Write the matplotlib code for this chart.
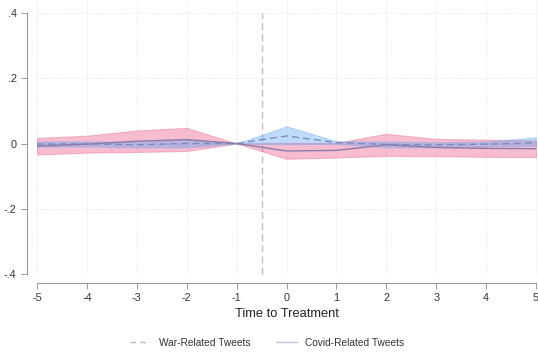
import matplotlib
matplotlib.use("Agg")
import matplotlib.pyplot as plt
from matplotlib.lines import Line2D

plt.rcParams['font.family'] = ['Liberation Sans', 'DejaVu Sans']

t = [-5, -4, -3, -2, -1, 0, 1, 2, 3, 4, 5]

war_coef = [-0.002, -0.001, -0.004, 0.000, 0.0, 0.023, 0.003, -0.003, -0.004, -0.002, 0.002]
war_lo   = [-0.010, -0.009, -0.012, -0.012, 0.0, -0.002, -0.001, -0.012, -0.012, -0.009, -0.007]
war_hi   = [0.006, 0.007, 0.005, 0.012, 0.0, 0.053, 0.007, 0.006, 0.004, 0.006, 0.019]

cov_coef = [-0.008, -0.002, 0.007, 0.012, 0.0, -0.023, -0.021, -0.004, -0.012, -0.015, -0.016]
cov_lo   = [-0.034, -0.028, -0.026, -0.023, 0.0, -0.047, -0.043, -0.038, -0.039, -0.041, -0.042]
cov_hi   = [0.017, 0.024, 0.040, 0.048, 0.0, 0.002, 0.002, 0.030, 0.014, 0.012, 0.009]

xticks = [-5, -4, -3, -2, -1, 0, 1, 2, 3, 4, 5]
yticks = [-0.4, -0.2, 0, 0.2, 0.4]
ytick_labels = ['-.4', '-.2', '0', '.2', '.4']

W, H = 538, 356
fig = plt.figure(figsize=(W / 100, H / 100), dpi=100)
left, right, top, bottom = 37, 536, 13, 274
ax = fig.add_axes([left / W, 1 - bottom / H, (right - left) / W, (bottom - top) / H])
ax.set_xlim(-5, 5)
ax.set_ylim(-0.4, 0.4)

# grid
for x in xticks:
    ax.plot([x, x], [-0.4, 0.44], color='#e4e4e4', lw=0.7, ls=(0, (1, 1.5)), zorder=0, clip_on=False)
for y in yticks:
    ax.plot([-5, 5], [y, y], color='#e4e4e4', lw=0.7, ls=(0, (1, 1.5)), zorder=0)

# treatment line
ax.plot([-0.5, -0.5], [-0.4, 0.4], color='#bdbdbd', lw=1.0, ls=(0, (5, 3)), zorder=1, clip_on=False)

# confidence bands
ax.fill_between(t, cov_lo, cov_hi, color='#f06090', alpha=0.42, lw=0.8, edgecolor='#e07095', zorder=2)
ax.fill_between(t, war_lo, war_hi, color='#5aa0f0', alpha=0.38, lw=0.8, edgecolor='#7aaee8', zorder=3)

ax.plot(t, war_coef, color='#7a8fbf', lw=1.0, ls=(0, (5, 3)), zorder=4)
ax.plot(t, cov_coef, color='#8a7ca8', lw=1.0, zorder=4)

ax.set_xticks(xticks)
ax.set_xticklabels([str(x) for x in xticks])
ax.set_yticks(yticks)
ax.set_yticklabels(ytick_labels)
ax.tick_params(axis='both', labelsize=7.8, colors='#333333', length=4, width=0.7)
ax.tick_params(axis='both', color='#999999')

for s in ['top', 'right']:
    ax.spines[s].set_visible(False)
ax.spines['left'].set_position(('outward', 7.2))
ax.spines['bottom'].set_position(('outward', 6.5))
ax.spines['left'].set_color('#999999')
ax.spines['bottom'].set_color('#999999')
ax.spines['left'].set_linewidth(0.8)
ax.spines['bottom'].set_linewidth(0.8)

ax.set_xlabel('Time to Treatment', fontsize=9.3, color='#222222', labelpad=3)

handles = [
    Line2D([0], [0], color='#b8bcc8', lw=1.0, ls=(0, (4, 3))),
    Line2D([0], [0], color='#b8c4d8', lw=1.0),
]
fig.legend(handles, ['War-Related Tweets', 'Covid-Related Tweets'], loc='center',
           bbox_to_anchor=(267 / W, 1 - 343 / H), ncol=2, frameon=False,
           fontsize=7.3, handlelength=2.0, columnspacing=2.6, handletextpad=0.8,
           labelcolor='#333333')

fig.savefig('out.png', dpi=100)
